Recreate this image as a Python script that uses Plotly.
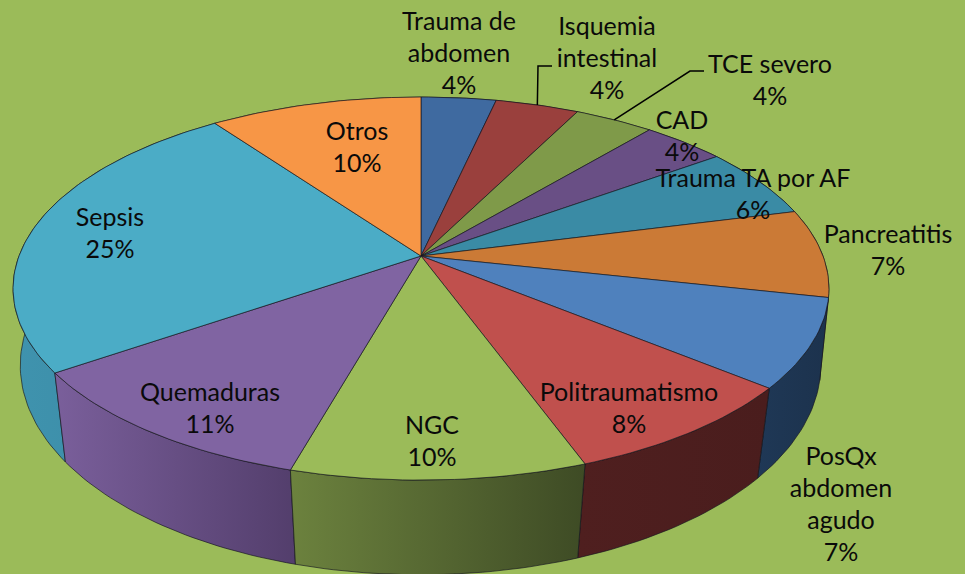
import math
import plotly.graph_objects as go

# ---- data, clockwise from 12 o'clock ----
categories = ["Trauma de abdomen", "Isquemia intestinal", "TCE severo", "CAD",
              "Trauma TA por AF", "Pancreatitis", "PosQx abdomen agudo",
              "Politraumatismo", "NGC", "Quemaduras", "Sepsis", "Otros"]
values = [3.5, 3.9, 3.7, 3.9, 6.0, 7.45, 7.49, 8.49, 9.95, 11.0, 24.7, 9.92]
label_lines = [["Trauma de", "abdomen"], ["Isquemia", "intestinal"], ["TCE severo"], ["CAD"],
               ["Trauma TA por AF"], ["Pancreatitis"], ["PosQx", "abdomen", "agudo"],
               ["Politraumatismo"], ["NGC"], ["Quemaduras"], ["Sepsis"], ["Otros"]]

# ---- style and layout ----
BG = "#9BBB59"
top_colors = ["#3F6AA0", "#9A403D", "#7F9A49", "#694F85", "#3A8BA5", "#CB7A36",
              "#4F81BD", "#C0504D", "#9BBB59", "#8064A2", "#4BACC6", "#F79646"]
side_colors = [("#3F6AA0", "#2F5078"), ("#7A3230", "#5F2725"), ("#64793A", "#4D5D2C"),
               ("#523E68", "#40304F"), ("#2F7088", "#245566"), ("#A5632B", "#7C4A20"),
               ("#1F3856", "#1C324D"), ("#4F1F1F", "#4A1D1D"), ("#6C823E", "#3E4B25"),
               ("#7A5F9B", "#533E6C"), ("#3F93AE", "#3A88A2"), ("#C07530", "#9A5D26")]
label_anchor = [(459, 24), (607, 29), (770, 67), (682, 123), (753, 181), (888, 237),
                (841, 459), (629, 395), (432, 428), (210, 395), (110, 220), (357, 134)]
LINE_STEP = 32
FONT = "Lato"
FONT_SIZE = 25

CX, CY = 421, 256
A_TOP, B_TOP, K_TOP = 402, 186, 0.17
CX_BOT, A_BOT, B_BOT, K_BOT, DROP = 420.5, 396, 205, 0.145, 79
EDGE = "rgba(20,20,30,0.65)"


def project(pct, cx, a, b, k, dy=0.0):
    th = 2 * math.pi * pct / 100
    u, v = math.sin(th), math.cos(th)
    w = 1 + k * v
    return cx + a * u / w, CY + dy - b * v / w


def arc(p0, p1, lower=False):
    n = max(2, int((p1 - p0) * 3))
    out = []
    for i in range(n + 1):
        p = p0 + (p1 - p0) * i / n
        if lower:
            out.append(project(p, CX_BOT, A_BOT, B_BOT, K_BOT, DROP))
        else:
            out.append(project(p, CX, A_TOP, B_TOP, K_TOP))
    return out


bounds = [0.0]
for val in values:
    bounds.append(bounds[-1] + val)

fig = go.Figure()

# side walls, back to front
order = sorted(range(len(values)),
               key=lambda i: -math.cos(math.pi * (bounds[i] + bounds[i + 1]) / 100))
for i in order:
    top = arc(bounds[i], bounds[i + 1])
    bot = arc(bounds[i], bounds[i + 1], lower=True)
    pts = top + bot[::-1] + top[:1]
    c0, c1 = side_colors[i]
    fig.add_trace(go.Scatter(
        x=[p[0] for p in pts], y=[p[1] for p in pts], mode="lines", fill="toself",
        fillgradient=dict(type="horizontal", colorscale=[[0, c0], [1, c1]]),
        line=dict(color=EDGE, width=1), hoverinfo="skip", showlegend=False))

# top faces
for i in range(len(values)):
    rim = arc(bounds[i], bounds[i + 1])
    pts = [(CX, CY)] + rim + [(CX, CY)]
    fig.add_trace(go.Scatter(
        x=[p[0] for p in pts], y=[p[1] for p in pts], mode="lines", fill="toself",
        fillcolor=top_colors[i], line=dict(color=EDGE, width=1),
        name=categories[i], hoverinfo="skip", showlegend=False))

# leader lines for the two labels set away from their slices
for (rim_pct, elbow, end) in [((bounds[1] + bounds[2]) / 2, (538, 66), (552, 66)),
                              ((bounds[2] + bounds[3]) / 2, (690, 71), (704, 71))]:
    sx, sy = project(rim_pct, CX, A_TOP, B_TOP, K_TOP)
    fig.add_trace(go.Scatter(x=[sx, elbow[0], end[0]], y=[sy, elbow[1], end[1]], mode="lines",
                             line=dict(color="black", width=1.5), hoverinfo="skip", showlegend=False))

# data labels, one text point per line
tx, ty, tt = [], [], []
for lines, val, (ax, ay) in zip(label_lines, values, label_anchor):
    full = lines + [f"{round(val)}%"]
    for j, line in enumerate(full):
        tx.append(ax)
        ty.append(ay + j * LINE_STEP)
        tt.append(line)
fig.add_trace(go.Scatter(x=tx, y=ty, text=tt, mode="text", textposition="middle center",
                         textfont=dict(family=FONT, size=FONT_SIZE, color="#0A0A0A"),
                         hoverinfo="skip", showlegend=False, cliponaxis=False))

fig.update_layout(
    width=965, height=574, autosize=False,
    margin=dict(l=0, r=0, t=0, b=0),
    paper_bgcolor=BG, plot_bgcolor=BG, showlegend=False,
    xaxis=dict(range=[0, 965], visible=False, fixedrange=True),
    yaxis=dict(range=[574, 0], visible=False, fixedrange=True),
)
fig.write_html("out.html", config={"displayModeBar": False},
               post_script="document.body.style.margin='0';document.body.style.overflow='hidden';"
                           "document.body.style.background='#9BBB59';")
